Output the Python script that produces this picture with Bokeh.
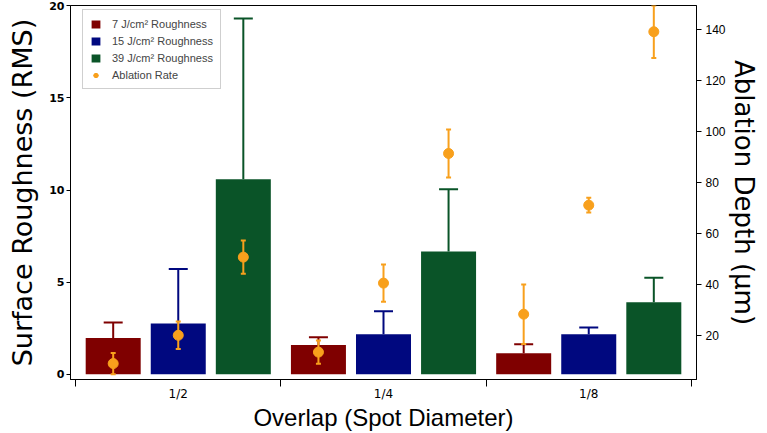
from bokeh.plotting import figure
from bokeh.models import (ColumnDataSource, Range1d, LinearAxis, FixedTicker,
                          Whisker, TeeHead, Legend, LegendItem)
from bokeh.transform import dodge
from bokeh.embed import file_html
from bokeh.resources import INLINE

# overlap categories and the three fluences
overlap = ["1/2", "1/4", "1/8"]
fluence = ["7", "15", "39"]
bar_colors = ["#7f0000", "#00087f", "#0a5428"]
orange = "#f8a01c"

# surface roughness (RMS) and upper error
rough_7 = [1.97, 1.59, 1.14]
rough_7_err = [0.83, 0.41, 0.49]
rough_15 = [2.75, 2.17, 2.17]
rough_15_err = [2.96, 1.24, 0.36]
rough_39 = [10.58, 6.66, 3.90]
rough_39_err = [8.73, 3.38, 1.34]

# ablation depth (um) and error, one point per bar
abl_7 = [9.0, 13.5, 28.4]
abl_7_err = [4.2, 4.6, 11.7]
abl_15 = [20.1, 40.6, 71.2]
abl_15_err = [5.4, 7.3, 2.9]
abl_39 = [50.8, 91.5, 139.3]
abl_39_err = [6.5, 9.4, 10.3]

left_ticks = [0, 5, 10, 15, 20]
right_ticks = [20, 40, 60, 80, 100, 120, 140]

idx = list(range(len(overlap)))
offsets = [-0.317, 0.0, 0.317]

p = figure(width=767, height=433, output_backend="svg", toolbar_location=None,
           x_range=Range1d(-0.525, len(overlap) - 0.5 + 0.025),
           y_range=Range1d(-0.29, 20.02),
           min_border_left=70, min_border_right=71, min_border_top=5, min_border_bottom=54)
p.extra_y_ranges = {"abl": Range1d(2.75, 149.6)}
p.xgrid.visible = False
p.ygrid.visible = False
p.outline_line_color = "black"
p.outline_line_alpha = 1

xa = p.xaxis[0]
xa.ticker = FixedTicker(ticks=idx, minor_ticks=[i - 0.5 for i in idx] + [len(idx) - 0.5])
xa.major_label_overrides = {i: overlap[i] for i in idx}
xa.major_tick_out = 0
xa.major_tick_in = 0
xa.minor_tick_out = 7
xa.minor_tick_in = 0
xa.minor_tick_line_color = "black"
xa.major_label_standoff = 0
xa.major_label_text_font = "DejaVu Sans"
xa.major_label_text_font_size = "12px"
xa.major_label_text_color = "black"
xa.axis_label = "Overlap (Spot Diameter)"
xa.axis_label_text_font = "Liberation Sans"
xa.axis_label_text_font_size = "24px"
xa.axis_label_text_font_style = "normal"
xa.axis_label_text_color = "black"
xa.axis_label_standoff = 0

ya = p.yaxis[0]
ya.ticker = FixedTicker(ticks=left_ticks)
ya.major_tick_out = 4
ya.major_tick_in = 0
ya.minor_tick_line_color = None
ya.major_label_standoff = 2
ya.major_label_text_font = "DejaVu Sans"
ya.major_label_text_font_style = "bold"
ya.major_label_text_font_size = "11px"
ya.major_label_text_color = "black"
ya.axis_label = "Surface Roughness (RMS)"
ya.axis_label_text_font = "DejaVu Sans"
ya.axis_label_text_font_size = "27px"
ya.axis_label_text_font_style = "normal"
ya.axis_label_text_color = "black"
ya.axis_label_standoff = 8

ra = LinearAxis(y_range_name="abl", ticker=FixedTicker(ticks=right_ticks))
ra.major_tick_out = 5
ra.major_tick_in = 0
ra.minor_tick_line_color = None
ra.major_label_standoff = 4
ra.major_label_text_font = "Liberation Sans"
ra.major_label_text_font_size = "12px"
ra.major_label_text_color = "black"
ra.axis_label = "Ablation Depth (\u00b5m)"
ra.axis_label_text_font = "DejaVu Sans"
ra.axis_label_text_font_size = "26px"
ra.axis_label_text_font_style = "normal"
ra.axis_label_text_color = "black"
ra.axis_label_standoff = 0
p.add_layout(ra, "right")

series = [
    (rough_7, rough_7_err, abl_7, abl_7_err),
    (rough_15, rough_15_err, abl_15, abl_15_err),
    (rough_39, rough_39_err, abl_39, abl_39_err),
]

items = []
dots = []
for (vals, errs, abl, abl_err), f, c, off in zip(series, fluence, bar_colors, offsets):
    src = ColumnDataSource(dict(
        x=idx, top=vals, upper=[v + e for v, e in zip(vals, errs)],
        abl=abl, abl_lo=[a - e for a, e in zip(abl, abl_err)],
        abl_hi=[a + e for a, e in zip(abl, abl_err)]))
    bars = p.vbar(x=dodge("x", off), top="top", bottom=0, width=0.268, source=src,
                  fill_color=c, line_color=None)
    items.append(LegendItem(label=f + " J/cm\u00b2 Roughness", renderers=[bars]))
    p.add_layout(Whisker(base=dodge("x", off), lower="top", upper="upper", source=src,
                         dimension="height", line_color=c, line_width=2, level="annotation",
                         upper_head=TeeHead(size=19, line_color=c, line_width=2),
                         lower_head=None))
    p.add_layout(Whisker(base=dodge("x", off), lower="abl_lo", upper="abl_hi", source=src,
                         dimension="height", y_range_name="abl", level="annotation",
                         line_color=orange, line_width=2,
                         upper_head=TeeHead(size=5, line_color=orange, line_width=2),
                         lower_head=TeeHead(size=5, line_color=orange, line_width=2)))
    dots.append(p.scatter(x=dodge("x", off), y="abl", source=src, y_range_name="abl",
                          size=10, fill_color=orange, line_color=orange, level="overlay"))

items.append(LegendItem(label="Ablation Rate", renderers=dots))

legend = Legend(items=items, location=(12, 290), margin=0, padding=7, spacing=4,
                glyph_width=11, glyph_height=10, label_height=13, label_standoff=11,
                label_text_font="Liberation Sans", label_text_font_size="11px",
                border_line_color="#a0a0a0", border_line_width=1,
                background_fill_color="white", background_fill_alpha=1)
p.add_layout(legend, "center")

open("out.html", "w").write(file_html(p, INLINE))
